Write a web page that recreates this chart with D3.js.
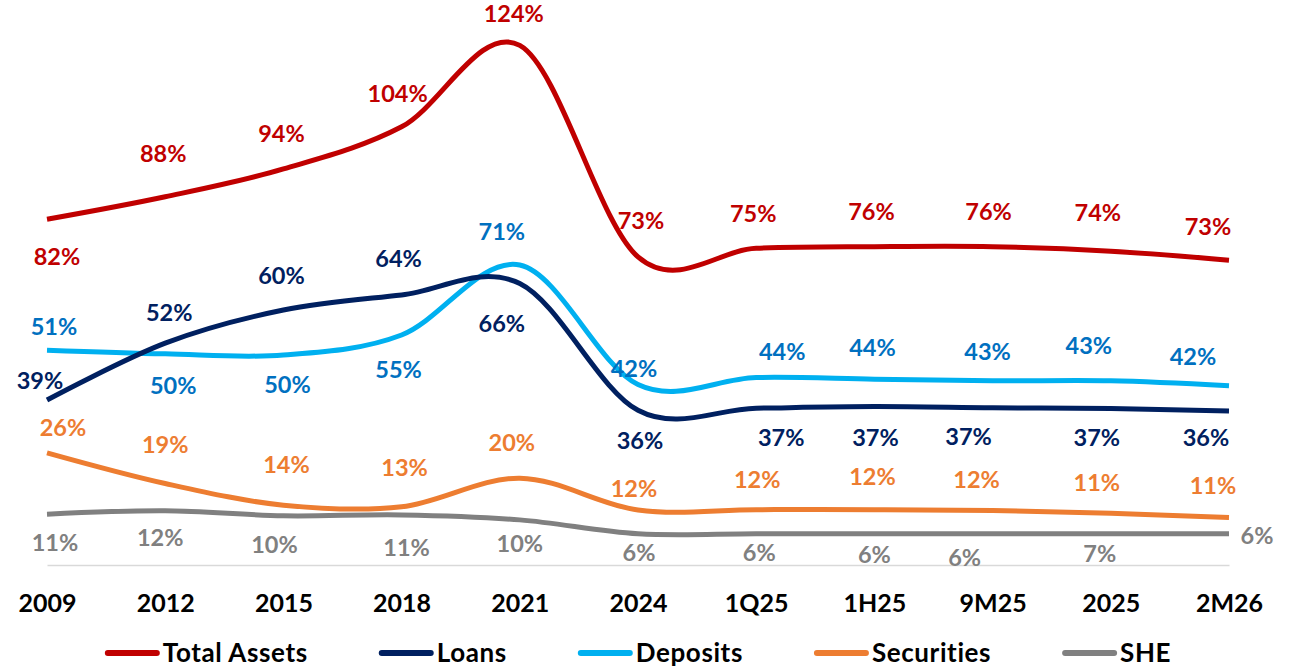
<!DOCTYPE html>
<html>
<head>
<meta charset="utf-8">
<script src="https://cdn.jsdelivr.net/npm/d3@7"></script>
<style>
  html, body { margin: 0; padding: 0; background: #fff; }
  svg text { font-family: Lato, "Open Sans", sans-serif; font-weight: 700; }
</style>
</head>
<body>
<div id="chart-area"></div>
<script>
/***** Data *****/
const periods = ["2009", "2012", "2015", "2018", "2021", "2024", "1Q25", "1H25", "9M25", "2025", "2M26"];

const totalAssets = [82.7, 88.2, 95.0, 105.3, 125.2, 73.5, 75.6, 76.0, 76.0, 74.9, 72.7];
const loans       = [38.5, 52.4, 60.5, 64.2, 67.0, 36.0, 36.5, 36.9, 36.6, 36.4, 35.8];
const deposits    = [50.7, 49.8, 49.5, 54.4, 71.5, 42.3, 44.0, 43.6, 43.2, 43.2, 42.0];
const securities  = [25.6, 18.1, 12.8, 12.4, 19.4, 11.6, 11.7, 11.7, 11.5, 10.8, 9.8];
const she         = [10.6, 11.4, 10.2, 10.4, 9.2, 5.8, 5.8, 5.8, 5.8, 5.8, 5.8];

// printed data labels (%)
const totalAssetsText = [82, 88, 94, 104, 124, 73, 75, 76, 76, 74, 73];
const loansText       = [39, 52, 60, 64, 66, 36, 37, 37, 37, 37, 36];
const depositsText    = [51, 50, 50, 55, 71, 42, 44, 44, 43, 43, 42];
const securitiesText  = [26, 19, 14, 13, 20, 12, 12, 12, 12, 11, 11];
const sheText         = [11, 12, 10, 11, 10, 6, 6, 6, 6, 7, 6];

/***** Label nudges (px from the point) *****/
const taShift  = [[10,38],[-2,-43],[-2,-35],[-4,-33],[-6,-32],[3,-36],[-3,-35],[-3,-35],[-4,-35],[-13,-38],[-21,-33]];
const lnShift  = [[-7,-19],[4,-30],[-2,-34],[-3,-36],[-18,40],[2,31],[25,30],[1,31],[-24,29],[-14,29],[-23,27]];
const dpShift  = [[7,-23],[8,32],[4,30],[-3,35],[-18,-33],[-4,-16],[26,-26],[-2,-31],[-5,-29],[-22,-35],[-36,-29]];
const scShift  = [[16,-25],[0,-39],[3,-40],[3,-39],[-8,-35],[-4,-21],[1,-30],[-2,-33],[-16,-31],[-14,-31],[-16,-32]];
const shShift  = [[8,29],[-5,27],[-9,29],[5,33],[0,24],[1,19],[3,19],[0,21],[-28,24],[-11,20],[28,2]];

const series = [
  { name: "Total Assets", values: totalAssets, text: totalAssetsText, color: "#C00000", labelColor: "#C00000", shift: taShift },
  { name: "Loans",        values: loans,       text: loansText,       color: "#002060", labelColor: "#002060", shift: lnShift },
  { name: "Deposits",     values: deposits,    text: depositsText,    color: "#00B0F0", labelColor: "#0070C0", shift: dpShift },
  { name: "Securities",   values: securities,  text: securitiesText,  color: "#ED7D31", labelColor: "#ED7D31", shift: scShift },
  { name: "SHE",          values: she,         text: sheText,         color: "#808080", labelColor: "#808080", shift: shShift }
];

/***** Setup *****/
const width = 1304, height = 669;
const svg = d3.select("#chart-area").append("svg")
  .attr("width", width).attr("height", height);

const x = d3.scalePoint().domain(periods).range([47, 1229]);
const y = d3.scaleLinear().domain([0, 130]).range([557.5, 557.5 - 4.09 * 130]);

/***** Axis *****/
const gX = svg.append("g").attr("transform", "translate(0,565)")
  .call(d3.axisBottom(x).tickSize(0).tickSizeOuter(0));
gX.select(".domain").attr("stroke", "#d9d9d9").attr("stroke-width", 1.5);
gX.selectAll("text")
  .attr("y", 38).attr("dy", "0.35em")
  .attr("fill", "#000")
  .style("font-size", "25px")
  .style("font-family", "Lato, 'Open Sans', sans-serif")
  .style("font-weight", 700);

/***** Lines *****/
const line = d3.line()
  .x((d, i) => x(periods[i]))
  .y(d => y(d))
  .curve(d3.curveCatmullRom.alpha(0));

// draw bottom-up so the red line sits on top
series.slice().reverse().forEach(s => {
  svg.append("path")
    .datum(s.values)
    .attr("fill", "none")
    .attr("stroke", s.color)
    .attr("stroke-width", 5)
    .attr("d", line);
});

/***** Data labels *****/
series.forEach(s => {
  svg.append("g").selectAll("text")
    .data(s.values)
    .join("text")
      .attr("x", (d, i) => x(periods[i]) + s.shift[i][0])
      .attr("y", (d, i) => y(d) + s.shift[i][1])
      .attr("dy", "0.35em")
      .attr("text-anchor", "middle")
      .attr("fill", s.labelColor)
      .style("font-size", "23.5px")
      .text((d, i) => s.text[i] + "%");
});

/***** Legend *****/
const legend = svg.append("g");
let cursor = 0;
series.forEach(s => {
  const item = legend.append("g").attr("transform", `translate(${cursor},0)`);
  item.append("line")
    .attr("x1", 3).attr("x2", 52).attr("y1", 0).attr("y2", 0)
    .attr("stroke", s.color).attr("stroke-width", 6).attr("stroke-linecap", "round");
  const t = item.append("text")
    .attr("x", 58).attr("dy", "0.35em")
    .attr("fill", "#000")
    .style("font-size", "26px")
    .style("letter-spacing", "0.6px")
    .text(s.name);
  cursor += 58 + t.node().getComputedTextLength() + 71;
});
const legendW = cursor - 71;
legend.attr("transform", `translate(${638 - legendW / 2},653)`);
</script>
</body>
</html>
